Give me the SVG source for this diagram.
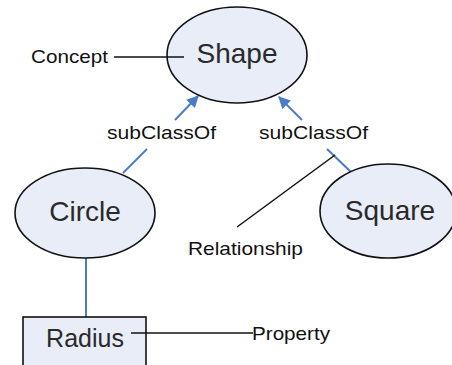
<svg xmlns="http://www.w3.org/2000/svg" width="452" height="365" viewBox="0 0 452 365">
<style>
.node{fill:#E8EDF8;stroke:#111;stroke-width:1.6}
.big{font-family:"Liberation Sans",Arial,sans-serif;font-size:28px;fill:#2a2a2a;text-anchor:middle}
.lbl{font-family:"Liberation Sans",Arial,sans-serif;font-size:19px;fill:#111}
.rel{stroke:#4A7CC7;stroke-width:2;fill:none}
.ann{stroke:#111;stroke-width:1.5;fill:none}
</style>
<defs>
<marker id="ah" viewBox="0 0 10 10" refX="9" refY="5" markerWidth="6" markerHeight="6" orient="auto" markerUnits="strokeWidth">
<path d="M0,0 L10,5 L0,10 z" fill="#4A7CC7"/>
</marker>
</defs>
<rect width="452" height="365" fill="#fff"/>
<g id="connectors">
<line class="rel" x1="175" y1="120" x2="198" y2="96" marker-end="url(#ah)"/>
<line class="rel" x1="147" y1="149" x2="123" y2="173"/>
<line class="rel" x1="302" y1="120" x2="279" y2="97" marker-end="url(#ah)"/>
<line class="rel" x1="327" y1="149" x2="352" y2="173"/>
<line class="rel" x1="86" y1="258" x2="86" y2="318"/>
<text class="lbl" x="107" y="139" textLength="109" lengthAdjust="spacingAndGlyphs">subClassOf</text>
<text class="lbl" x="259" y="139" textLength="109" lengthAdjust="spacingAndGlyphs">subClassOf</text>
</g>
<g id="shape">
<ellipse class="node" cx="237" cy="55" rx="70" ry="48"/>
<text class="big" x="237" y="63">Shape</text>
</g>
<g id="circle">
<ellipse class="node" cx="85" cy="213" rx="70" ry="45"/>
<text class="big" x="85" y="221">Circle</text>
</g>
<g id="square">
<ellipse class="node" cx="388" cy="211" rx="68" ry="47"/>
<text class="big" x="390" y="220">Square</text>
</g>
<g id="radius">
<rect class="node" x="23" y="317" width="123" height="55"/>
<text class="big" x="85" y="347" style="font-size:25px">Radius</text>
</g>
<g id="annotations">
<line class="ann" x1="114" y1="57" x2="184" y2="57"/>
<text class="lbl" x="31" y="63" textLength="77" lengthAdjust="spacingAndGlyphs">Concept</text>
<line class="ann" x1="335" y1="155" x2="237" y2="227"/>
<text class="lbl" x="188" y="255" textLength="115" lengthAdjust="spacingAndGlyphs">Relationship</text>
<line class="ann" x1="131" y1="333" x2="253" y2="333"/>
<text class="lbl" x="252" y="340" textLength="78" lengthAdjust="spacingAndGlyphs">Property</text>
</g>
</svg>
